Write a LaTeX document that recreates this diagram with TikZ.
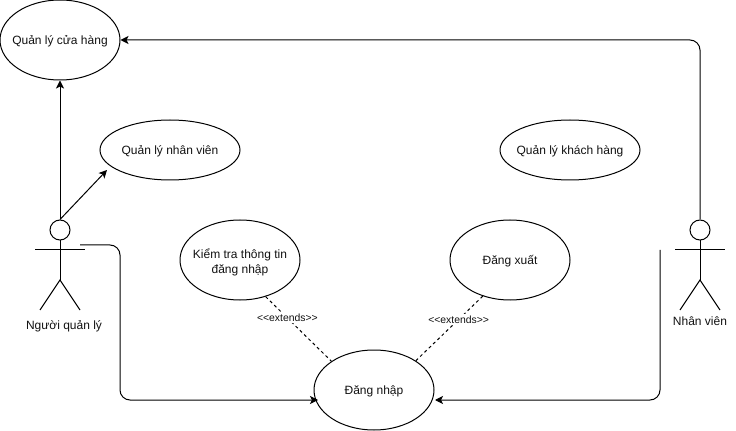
\documentclass[tikz,border=0pt]{standalone}
\usepackage{fontspec}
\setmainfont{Liberation Sans}
\usepackage{xcolor}
\usetikzlibrary{arrows.meta,positioning,shapes.geometric}
\definecolor{inkblack}{HTML}{111111}

\begin{document}
\begin{tikzpicture}[
    x=0.75pt, y=-0.75pt,
    line width=0.75pt,
    usecase/.style={ellipse, draw=black, inner xsep=-12pt, inner ysep=0pt, align=center, text height=9pt, font=\fontsize{9}{11}\selectfont\color{inkblack}, minimum width=90pt, minimum height=60pt},
    widecase/.style={usecase, minimum width=105pt, minimum height=45pt},
    actorhead/.style={circle, draw=black, inner sep=0pt, minimum size=15pt},
    actorname/.style={font=\fontsize{9}{11}\selectfont\color{inkblack}, inner sep=0pt},
    extendslabel/.style={fill=white, inner sep=1pt, font=\fontsize{7.8}{9}\selectfont\color{inkblack}},
    assoc/.style={-{Stealth[length=6pt,width=6pt,inset=1.5pt]}, draw=black, rounded corners=7.5pt},
    extendsline/.style={draw=black, dash pattern=on 2.25pt off 2.25pt}
]
\useasboundingbox (0,0) rectangle (736,431);

% Use cases
\node[usecase] (shop) at (60,40) {Quản lý cửa hàng};
\node[widecase] (staff) at (170,150) {Quản lý nhân viên};
\node[widecase] (customer) at (570,150) {Quản lý khách hàng};
\node[usecase, text height=22pt] (check) at (240,260) {Kiểm tra thông tin\\đăng nhập};
\node[usecase] (logout) at (510,260) {Đăng xuất};
\node[usecase] (login) at (374,390) {Đăng nhập};

% Actor: manager
\node[actorhead] (mgrhead) at (60,230) {};
\coordinate (mgrhip) at (60,280);
\coordinate (mgrarml) at (35,250);
\coordinate (mgrarmr) at (85,250);
\coordinate (mgrfootl) at (40,310);
\coordinate (mgrfootr) at (80,310);
\draw (mgrhead.south) -- (mgrhip);
\draw (mgrarml) -- (mgrarmr);
\draw (mgrfootl) -- (mgrhip) -- (mgrfootr);
\node[actorname] (mgrname) at (64,326) {Người quản lý};

% Actor: employee
\node[actorhead] (emphead) at (700,230) {};
\coordinate (emphip) at (700,280);
\coordinate (emparml) at (675,250);
\coordinate (emparmr) at (725,250);
\coordinate (empfootl) at (680,310);
\coordinate (empfootr) at (720,310);
\draw (emphead.south) -- (emphip);
\draw (emparml) -- (emparmr);
\draw (empfootl) -- (emphip) -- (empfootr);
\node[actorname] (empname) at (700,321) {Nhân viên};

% Free ends of the connectors
\coordinate (stafftip) at (107,170);
\coordinate (mgrhand) at (80,245);
\coordinate (mgrbend) at (120,400);
\coordinate (logintipl) at (318,400);
\coordinate (emphand) at (660,250);
\coordinate (logintipr) at (435,400);

% Associations
\draw[assoc] (mgrhead.north) -- (shop.south);
\draw[assoc] (mgrhead.north) -- (stafftip);
\draw[assoc] (mgrhand) -| (mgrbend) -- (logintipl);
\draw[assoc] (emphead.north) |- (shop.east);
\draw[assoc] (emphand) |- (logintipr);

% Extends
\draw[extendsline] (check.-55) -- (login.146) node[extendslabel, pos=0.33] (extcheck) {<{}<extends>{}>};
\draw[extendsline] (logout.233) -- (login.35) node[extendslabel, pos=0.36] (extlogout) {<{}<extends>{}>};

\end{tikzpicture}
\end{document}
